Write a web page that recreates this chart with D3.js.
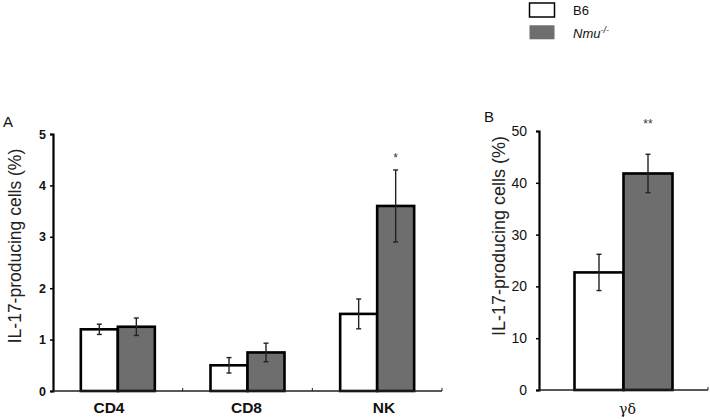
<!DOCTYPE html>
<html><head><meta charset="utf-8">
<script src="https://cdn.jsdelivr.net/npm/d3@7"></script>
<style>html,body{margin:0;padding:0;background:#fff;} svg{display:block;}</style>
</head><body>
<svg id="chart" width="710" height="419"></svg>
<script>
// ---- data ----
const seriesNames = ["B6", "Nmu"];
const categoriesA = ["CD4", "CD8", "NK"];
const b6A = [1.2, 0.5, 1.5];
const b6ErrA = [0.1, 0.15, 0.29];
const nmuA = [1.25, 0.75, 3.6];
const nmuErrA = [0.17, 0.18, 0.7];
const signifA = ["", "", "*"];
const ticksA = [0, 1, 2, 3, 4, 5];

const categoriesB = ["γδ"];
const b6B = [22.7];
const b6ErrB = [3.5];
const nmuB = [41.8];
const nmuErrB = [3.7];
const signifB = ["**"];
const ticksB = [0, 10, 20, 30, 40, 50];

const fills = {B6: "#ffffff", Nmu: "#6e6e6e"};

const svg = d3.select("#chart");

function panel(opt) {
  const g = svg.append("g");
  const x = d3.scaleBand().domain(opt.cats).range([opt.x0, opt.x1]).paddingInner(0).paddingOuter(0);
  const po = (x.bandwidth() / opt.barW - 2) / 2;
  const xs = d3.scaleBand().domain(seriesNames).range([0, x.bandwidth()]).paddingInner(0).paddingOuter(po);
  const y = d3.scaleLinear().domain(opt.domain).range([opt.y0, opt.y1]);
  const xl = opt.cats.length > 1
    ? d3.scalePoint().domain(opt.cats).range(opt.catRange)
    : (c => x(c) + x.bandwidth() / 2 + 4);

  const rows = [];
  opt.cats.forEach((c, i) => {
    rows.push({cat: c, s: "B6", v: opt.b6[i], e: opt.b6Err[i]});
    rows.push({cat: c, s: "Nmu", v: opt.nmu[i], e: opt.nmuErr[i]});
  });

  // bars
  g.selectAll("rect.bar").data(rows).join("rect")
    .attr("x", d => x(d.cat) + xs(d.s))
    .attr("y", d => y(d.v))
    .attr("width", xs.bandwidth())
    .attr("height", d => y(0) - y(d.v))
    .attr("fill", d => fills[d.s])
    .attr("stroke", "#000")
    .attr("stroke-width", 2.6);

  // error bars
  const eb = g.selectAll("g.eb").data(rows).join("g").attr("stroke", "#222").attr("stroke-width", 1.4);
  const cx = d => x(d.cat) + xs(d.s) + xs.bandwidth() / 2;
  eb.append("line").attr("x1", cx).attr("x2", cx).attr("y1", d => y(d.v + d.e)).attr("y2", d => y(d.v - d.e));
  eb.append("line").attr("x1", d => cx(d) - 2.5).attr("x2", d => cx(d) + 2.5).attr("y1", d => y(d.v + d.e)).attr("y2", d => y(d.v + d.e));
  eb.append("line").attr("x1", d => cx(d) - 2.5).attr("x2", d => cx(d) + 2.5).attr("y1", d => y(d.v - d.e)).attr("y2", d => y(d.v - d.e));

  // significance
  g.selectAll("text.sig").data(opt.cats).join("text")
    .attr("x", (c) => x(c) + xs("Nmu") + xs.bandwidth() / 2)
    .attr("y", opt.sigY)
    .attr("text-anchor", "middle")
    .attr("font-family", "Liberation Sans, Arial, sans-serif")
    .attr("font-size", 12)
    .attr("fill", "#333")
    .text((c, i) => opt.sig[i]);

  // y axis
  const ya = g.append("g").attr("transform", `translate(${opt.x0},0)`)
    .call(d3.axisLeft(y).tickValues(opt.ticks).tickFormat(d3.format("d")).tickSize(3).tickPadding(opt.tickPad));
  ya.select(".domain").attr("stroke", "#000").attr("stroke-width", 2.2);
  ya.selectAll(".tick line").attr("stroke", "#000").attr("stroke-width", 1.5);
  ya.selectAll(".tick text").attr("font-family", opt.tickFont).attr("font-weight", opt.tickWeight)
    .attr("font-size", opt.tickSize).attr("fill", "#111");

  // x axis baseline
  g.append("line").attr("x1", opt.x0).attr("x2", opt.x1).attr("y1", y(0)).attr("y2", y(0))
    .attr("stroke", "#222").attr("stroke-width", 1.5);
  const bounds = opt.cats.map(c => x(c) + x.bandwidth());
  g.selectAll("line.xt").data(bounds).join("line")
    .attr("x1", d => d).attr("x2", d => d).attr("y1", y(0)).attr("y2", y(0) - 3)
    .attr("stroke", "#222").attr("stroke-width", 1);

  // category labels
  g.selectAll("text.cat").data(opt.cats).join("text")
    .attr("x", c => xl(c))
    .attr("y", opt.catY)
    .attr("text-anchor", "middle")
    .attr("font-family", opt.catFont)
    .attr("font-weight", opt.catWeight)
    .attr("font-size", opt.catSize)
    .attr("fill", "#111")
    .text(c => c);

  // y label
  g.append("text")
    .attr("transform", `translate(${opt.ylabX},${opt.ylabY}) rotate(-90)`)
    .attr("text-anchor", "middle")
    .attr("font-family", "Liberation Sans, Arial, sans-serif")
    .attr("font-size", opt.ylabSize)
    .attr("fill", "#222")
    .text("IL-17-producing cells (%)");

  // panel letter
  g.append("text").attr("x", opt.letterX).attr("y", opt.letterY)
    .attr("font-family", "Liberation Sans, Arial, sans-serif").attr("font-size", 15).attr("fill", "#111")
    .text(opt.letter);
}

panel({
  cats: categoriesA, b6: b6A, b6Err: b6ErrA, nmu: nmuA, nmuErr: nmuErrA, sig: signifA,
  ticks: ticksA, domain: [0, 5], x0: 53, x1: 442, y0: 391, y1: 134, barW: 37,
  tickFont: "Liberation Sans, Arial, sans-serif", tickWeight: "bold", tickSize: 12.5, tickPad: 4,
  catFont: "Liberation Sans, Arial, sans-serif", catWeight: "bold", catSize: 15.5, catY: 413, catRange: [109, 384],
  sigY: 162, ylabX: 21, ylabY: 246, ylabSize: 17.5, letter: "A", letterX: 3, letterY: 127
});

panel({
  cats: categoriesB, b6: b6B, b6Err: b6ErrB, nmu: nmuB, nmuErr: nmuErrB, sig: signifB,
  ticks: ticksB, domain: [0, 50], x0: 539, x1: 708, y0: 390, y1: 131, barW: 49,
  tickFont: "Liberation Sans Narrow, Liberation Sans, Arial, sans-serif", tickWeight: "normal", tickSize: 14, tickPad: 9,
  catFont: "DejaVu Serif, Liberation Serif, serif", catWeight: "normal", catSize: 14, catY: 414,
  sigY: 128, ylabX: 505, ylabY: 236, ylabSize: 18, letter: "B", letterX: 484, letterY: 122
});

// legend
const legend = svg.append("g").attr("font-family", "Liberation Sans, Arial, sans-serif").attr("font-size", 13);
const legY = d3.scaleBand().domain(seriesNames).range([3, 42]).paddingInner(0.25);
legend.selectAll("rect").data(seriesNames).join("rect")
  .attr("x", 529.5).attr("y", d => legY(d)).attr("width", 25).attr("height", 14)
  .attr("fill", d => fills[d])
  .attr("stroke", d => d === "B6" ? "#000" : "none").attr("stroke-width", 1.5);
legend.append("text").attr("x", 573).attr("y", legY("B6") + 12).attr("fill", "#111").text("B6");
const t2 = legend.append("text").attr("x", 573).attr("y", legY("Nmu") + 13).attr("fill", "#111");
t2.append("tspan").attr("font-style", "italic").text("Nmu");
t2.append("tspan").attr("font-style", "italic").attr("font-size", 9).attr("dy", -5).text("-/-");
</script>
</body></html>
